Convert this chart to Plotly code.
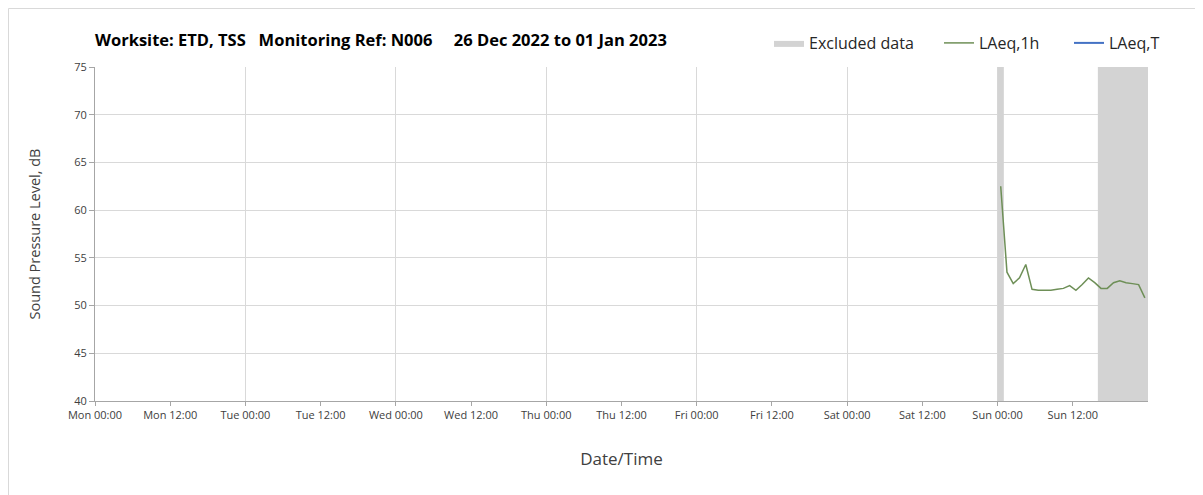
import plotly.graph_objects as go
from datetime import datetime, timedelta

# ---- data ----
start = datetime(2022, 12, 26, 0, 0)
end = datetime(2023, 1, 2, 0, 0)

laeq_1h_times = [
    "2023-01-01 00:30", "2023-01-01 01:30", "2023-01-01 02:30", "2023-01-01 03:30",
    "2023-01-01 04:30", "2023-01-01 05:30", "2023-01-01 06:30", "2023-01-01 07:30",
    "2023-01-01 08:30", "2023-01-01 09:30", "2023-01-01 10:30", "2023-01-01 11:30",
    "2023-01-01 12:30", "2023-01-01 13:30", "2023-01-01 14:30", "2023-01-01 15:30",
    "2023-01-01 16:30", "2023-01-01 17:30", "2023-01-01 18:30", "2023-01-01 19:30",
    "2023-01-01 20:30", "2023-01-01 21:30", "2023-01-01 22:30", "2023-01-01 23:30",
]
laeq_1h_values = [
    62.5, 53.5, 52.3, 52.9, 54.3, 51.7, 51.6, 51.6,
    51.6, 51.7, 51.8, 52.1, 51.6, 52.2, 52.9, 52.4,
    51.8, 51.8, 52.4, 52.6, 52.4, 52.3, 52.2, 50.8,
]
laeq_t_times = [None]
laeq_t_values = [None]

excluded_starts = ["2023-01-01 00:00", "2023-01-01 16:00"]
excluded_ends = ["2023-01-01 01:00", "2023-01-02 00:00"]

y_min, y_max = 40, 75
tick_times = [start + timedelta(hours=12 * i) for i in range(14)]
tick_labels = [t.strftime("%a %H:%M") for t in tick_times]

# ---- build figure ----
ex_x, ex_y = [], []
for s, e in zip(excluded_starts, excluded_ends):
    ex_x += [s, e, e, s, s, None]
    ex_y += [y_min, y_min, y_max, y_max, y_min, None]

font_family = "Open Sans, Lato, sans-serif"
fig = go.Figure()
fig.add_trace(go.Scatter(
    x=ex_x, y=ex_y, fill="toself", fillcolor="#d3d3d3", mode="lines",
    line=dict(width=0, color="#d3d3d3"), name="Excluded data", hoverinfo="skip",
    legend="legend"))
fig.add_trace(go.Scatter(
    x=laeq_1h_times, y=laeq_1h_values, mode="lines",
    line=dict(color="#6e8f57", width=1.5), name="LAeq,1h", legend="legend2"))
fig.add_trace(go.Scatter(
    x=laeq_t_times, y=laeq_t_values, mode="lines",
    line=dict(color="#4472c4", width=2), name="LAeq,T", legend="legend3"))
# invisible trace to activate overlay axis for daily gridlines
fig.add_trace(go.Scatter(x=[start, end], y=[None, None], xaxis="x2",
                         showlegend=False, hoverinfo="skip"))

# page has an 8px body margin; size the figure to fit the window
W, H = 1195, 487
ML, MR, MT, MB = 87, 55, 59, 94
PW, PH = W - ML - MR, H - MT - MB


def leg(xpix):
    return dict(orientation="h", xref="container", yref="container",
                x=xpix / W, xanchor="left", y=1 - 35 / H, yanchor="middle",
                font=dict(size=16, color="#262626"), itemwidth=30,
                bgcolor="rgba(0,0,0,0)")


fig.update_layout(
    width=W, height=H,
    margin=dict(l=ML, r=MR, t=MT, b=MB, autoexpand=False),
    paper_bgcolor="white", plot_bgcolor="white",
    font=dict(family=font_family, color="#404040"),
    showlegend=True,
    legend=leg(761), legend2=leg(931), legend3=leg(1061),
    xaxis=dict(type="date", range=[start, end], tickvals=tick_times, ticktext=tick_labels,
               showgrid=False, ticks="outside", ticklen=4, tickcolor="#a6a6a6",
               showline=True, linecolor="#a6a6a6", linewidth=1,
               tickfont=dict(size=11, color="#404040"),
               title=dict(text="Date/Time", font=dict(size=17, color="#404040"), standoff=31),
               zeroline=False),
    xaxis2=dict(type="date", range=[start, end], overlaying="x", anchor="y",
                dtick=86400000, tick0=start, showgrid=True, gridcolor="#d9d9d9",
                showticklabels=False, ticks="", showline=False, zeroline=False),
    yaxis=dict(range=[y_min, y_max], dtick=5, showgrid=True, gridcolor="#d9d9d9",
               ticks="outside", ticklen=5, tickcolor="#a6a6a6",
               showline=True, linecolor="#a6a6a6", linewidth=1,
               tickfont=dict(size=11, color="#404040"),
               title=dict(text="Sound Pressure Level, dB", font=dict(size=14.5, color="#404040"),
                          standoff=30),
               zeroline=False),
    annotations=[dict(
        text="<b>Worksite: ETD, TSS   Monitoring Ref: N006     26 Dec 2022 to 01 Jan 2023</b>",
        xref="paper", yref="paper", x=-2 / PW, y=1 + 27 / PH, xanchor="left", yanchor="middle",
        showarrow=False, font=dict(size=16.5, color="#000000"))],
    shapes=[dict(type="rect", xref="paper", yref="paper",
                 x0=-(ML - 0.5) / PW, x1=1.5, y0=-0.5, y1=1 + (MT - 0.5) / PH,
                 line=dict(color="#d9d9d9", width=1), layer="below")],
)

fig.write_html("out.html")
